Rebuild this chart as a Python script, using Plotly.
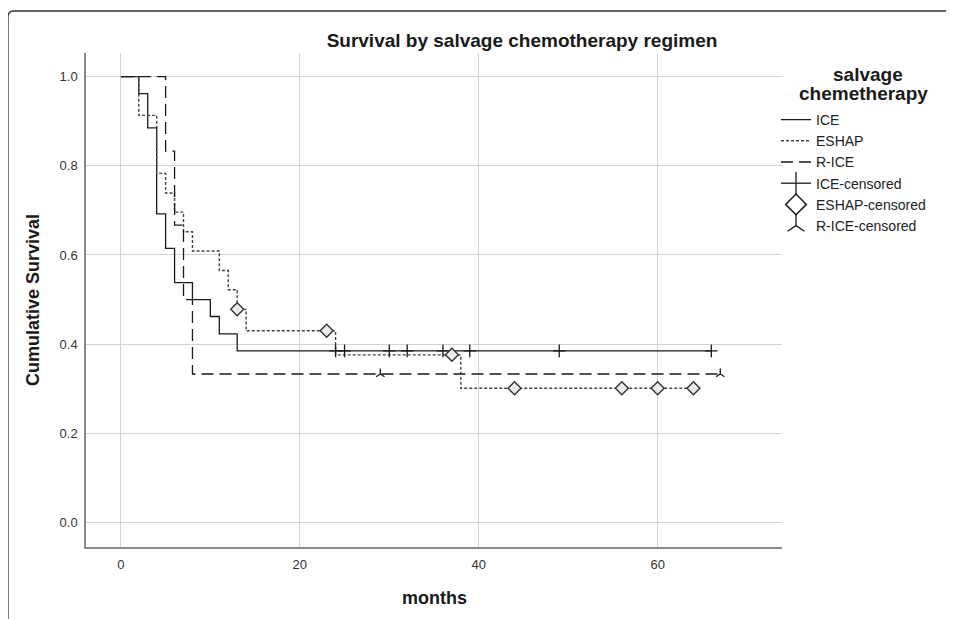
import plotly.graph_objects as go

# ---- data ----
ice_time = [0, 2, 3, 4, 5, 6, 8, 10, 11, 13, 66]
ice_surv = [1.0, 0.962, 0.885, 0.692, 0.615, 0.538, 0.500, 0.462, 0.423, 0.385, 0.385]
ice_cens_time = [24, 25, 30, 32, 36, 39, 49, 66]
ice_cens_surv = [0.385, 0.385, 0.385, 0.385, 0.385, 0.385, 0.385, 0.385]

eshap_time = [0, 2, 4, 5, 6, 7, 8, 11, 12, 13, 14, 24, 38, 64]
eshap_surv = [1.0, 0.913, 0.783, 0.739, 0.696, 0.652, 0.609, 0.565, 0.522, 0.478, 0.430, 0.376, 0.301, 0.301]
eshap_cens_time = [13, 23, 37, 44, 56, 60, 64]
eshap_cens_surv = [0.478, 0.430, 0.376, 0.301, 0.301, 0.301, 0.301]

rice_time = [0, 5, 6, 7, 8, 67]
rice_surv = [1.0, 0.833, 0.667, 0.500, 0.333, 0.333]
rice_cens_time = [29, 67]
rice_cens_surv = [0.333, 0.333]

x_ticks = [0, 20, 40, 60]
y_ticks = [0.0, 0.2, 0.4, 0.6, 0.8, 1.0]
y_tick_labels = ["0.0", "0.2", "0.4", "0.6", "0.8", "1.0"]

FONT = "Liberation Sans, Arial, sans-serif"
INK = "#1a1a1a"

fig = go.Figure()

# step curves
fig.add_trace(go.Scatter(x=ice_time, y=ice_surv, mode="lines", name="ICE",
                         line=dict(color=INK, width=1.3, shape="hv")))
fig.add_trace(go.Scatter(x=eshap_time, y=eshap_surv, mode="lines", name="ESHAP",
                         line=dict(color="#444444", width=1.4, shape="hv", dash="3px,2px")))
fig.add_trace(go.Scatter(x=rice_time, y=rice_surv, mode="lines", name="R-ICE",
                         line=dict(color=INK, width=1.3, shape="hv", dash="12px,6px")))

# censored marks
fig.add_trace(go.Scatter(x=ice_cens_time, y=ice_cens_surv, mode="markers", showlegend=False,
                         marker=dict(symbol="cross-thin-open", size=9, color=INK,
                                     line=dict(color=INK, width=1.3))))
fig.add_trace(go.Scatter(x=eshap_cens_time, y=eshap_cens_surv, mode="markers", showlegend=False,
                         marker=dict(symbol="diamond", size=10, color="rgba(235,235,235,1)",
                                     line=dict(color="#333333", width=1.4))))
fig.add_trace(go.Scatter(x=rice_cens_time, y=rice_cens_surv, mode="markers", showlegend=False,
                         marker=dict(symbol="y-up-open", size=7, color=INK,
                                     line=dict(color=INK, width=1.3))))

# legend entries for censored marks (larger symbols, as in the reference legend)
fig.add_trace(go.Scatter(x=[None], y=[None], mode="lines+markers", name="ICE-censored",
                         line=dict(color=INK, width=1.3),
                         marker=dict(symbol="line-ns-open", size=16, color=INK,
                                     line=dict(color=INK, width=1.3))))
fig.add_trace(go.Scatter(x=[None], y=[None], mode="markers", name="ESHAP-censored",
                         marker=dict(symbol="diamond-open", size=16, color=INK,
                                     line=dict(color=INK, width=1.5))))
fig.add_trace(go.Scatter(x=[None], y=[None], mode="markers", name="R-ICE-censored",
                         marker=dict(symbol="y-up-open", size=14, color=INK,
                                     line=dict(color=INK, width=1.3))))

# figure sits at an 8px page offset; coordinates below are given in page pixels
OFF = 8
W, H = 946, 611
L, R, T, B = 78, 172, 45, 72
pw, ph = W - L - R, H - T - B


def px_x(px):
    return (px - OFF - L) / pw


def px_y(py):
    return (H - B - (py - OFF)) / ph


# outer frame (left and top edges with rounded corner)
fx, fy = px_x(8), px_y(11)
rx, ry = 6 / pw, 6 / ph
frame_path = (f"M {fx},{px_y(640)} L {fx},{fy - ry} Q {fx},{fy} {fx + rx},{fy} "
              f"L {px_x(980)},{fy}")

fig.update_layout(
    width=W, height=H,
    margin=dict(l=L, r=R, t=T, b=B),
    paper_bgcolor="white", plot_bgcolor="white",
    font=dict(family=FONT, color="#222222"),
    title=dict(text="<b>Survival by salvage chemotherapy regimen</b>",
               font=dict(size=19, color="#1a1a1a", family=FONT),
               x=px_x(522), xref="paper", xanchor="center",
               y=1 - (40 - OFF) / H, yanchor="middle"),
    xaxis=dict(range=[-3.9, 73.9], tickvals=x_ticks, showgrid=True,
               gridcolor="#d2d2d2", gridwidth=1, zeroline=False,
               showline=True, linecolor="#8a8a8a", linewidth=1.5,
               ticks="", tickfont=dict(size=13, color="#333333"), ticklabelstandoff=5),
    yaxis=dict(range=[-0.055, 1.053], tickvals=y_ticks, ticktext=y_tick_labels,
               showgrid=True, gridcolor="#d2d2d2", gridwidth=1, zeroline=False,
               showline=True, linecolor="#8a8a8a", linewidth=1.5,
               ticks="", tickfont=dict(size=13, color="#333333"), ticklabelstandoff=4),
    legend=dict(x=px_x(776), xanchor="left", y=px_y(104), yanchor="top",
                font=dict(size=14, color="#222222", family=FONT),
                bgcolor="rgba(0,0,0,0)", itemwidth=30, tracegroupgap=0),
    shapes=[dict(type="path", path=frame_path, xref="paper", yref="paper",
                 line=dict(color="#333333", width=1.3))],
    annotations=[
        dict(text="<b>salvage</b>", x=px_x(868), y=px_y(75), xref="paper", yref="paper",
             showarrow=False, xanchor="center", yanchor="middle",
             font=dict(size=19, color="#1a1a1a", family=FONT)),
        dict(text="<b>chemetherapy</b>", x=px_x(863), y=px_y(93), xref="paper", yref="paper",
             showarrow=False, xanchor="center", yanchor="middle",
             font=dict(size=19, color="#1a1a1a", family=FONT)),
        dict(text="<b>Cumulative Survival</b>", x=px_x(33), y=px_y(300), xref="paper",
             yref="paper", showarrow=False, textangle=-90, xanchor="center",
             yanchor="middle", font=dict(size=18, color="#1a1a1a", family=FONT)),
        dict(text="<b>months</b>", x=px_x(434), y=px_y(598), xref="paper", yref="paper",
             showarrow=False, xanchor="center", yanchor="middle",
             font=dict(size=18, color="#1a1a1a", family=FONT)),
    ],
)

fig.write_html("out.html")
